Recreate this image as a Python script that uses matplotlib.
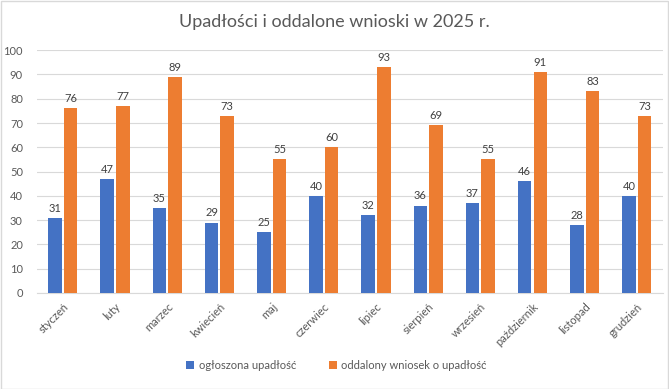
import matplotlib.pyplot as plt
import numpy as np

months = ['styczeń', 'luty', 'marzec', 'kwiecień', 'maj', 'czerwiec', 'lipiec',
          'sierpień', 'wrzesień', 'październik', 'listopad', 'grudzień']
declared = [31, 47, 35, 29, 25, 40, 32, 36, 37, 46, 28, 40]
rejected = [76, 77, 89, 73, 55, 60, 93, 69, 55, 91, 83, 73]

plt.rcParams['font.family'] = ['Lato', 'DejaVu Sans']

fig = plt.figure(figsize=(6.69, 3.89), dpi=100)
ax = fig.add_axes([0.055, 0.247, 0.936, 0.624])

x = np.arange(len(months))
w = 0.26
b1 = ax.bar(x - w / 2 - 0.02, declared, w, color='#4472C4', label='ogłoszona upadłość', zorder=3)
b2 = ax.bar(x + w / 2 + 0.02, rejected, w, color='#ED7D31', label='oddalony wniosek o upadłość', zorder=3)
for bars in (b1, b2):
    ax.bar_label(bars, padding=3, fontsize=8, color='#404040')

ax.set_xlim(-0.5, len(months) - 0.5)
ax.set_ylim(0, 100)
ax.set_yticks(range(0, 101, 10))
ax.yaxis.grid(True, color='#D9D9D9', linewidth=0.8, zorder=0)
ax.set_xticks(x)
ax.set_xticklabels(months, rotation=45, ha='right', rotation_mode='anchor')
ax.tick_params(axis='both', length=0, labelsize=8, labelcolor='#595959')
ax.tick_params(axis='x', pad=6)
ax.tick_params(axis='y', pad=10)
for s in ['top', 'right', 'left']:
    ax.spines[s].set_visible(False)
ax.spines['bottom'].set_color('#D9D9D9')

fig.suptitle('Upadłości i oddalone wnioski w 2025 r.', y=0.965, fontsize=13, color='#595959')
fig.legend(loc='lower center', bbox_to_anchor=(0.503, 0.02), ncol=2, frameon=False,
           fontsize=8, handlelength=0.7, handleheight=0.7, columnspacing=3,
           handletextpad=0.4, labelcolor='#595959')

fig.patches.append(plt.Rectangle((0.001, 0.001), 0.997, 0.997, transform=fig.transFigure,
                                 fill=False, edgecolor='#D9D9D9', linewidth=1))
fig.savefig('out.png', dpi=100)
